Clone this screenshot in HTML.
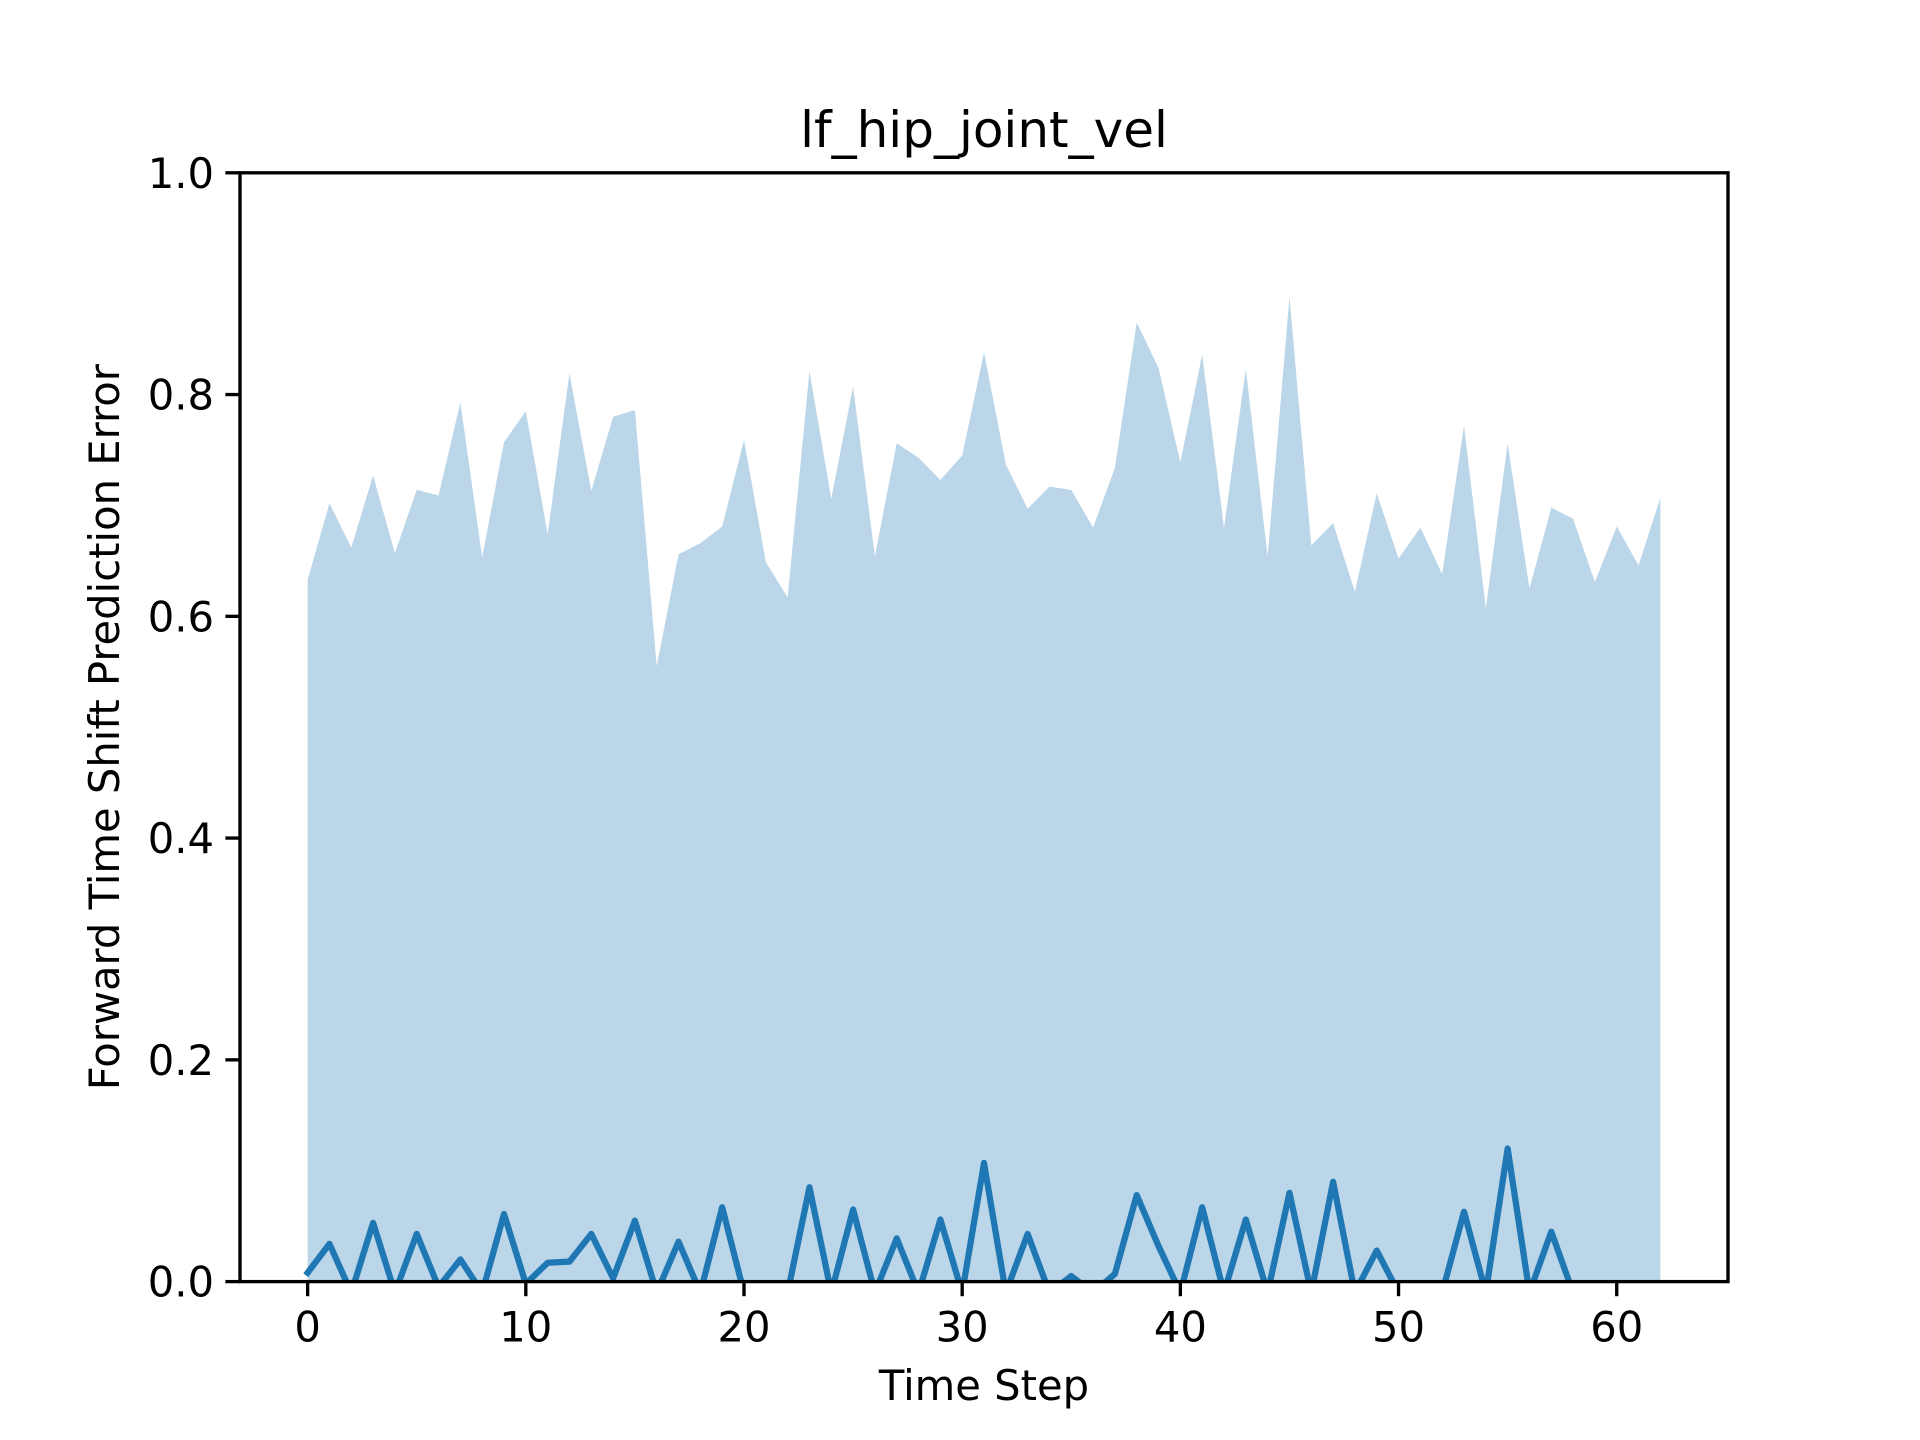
<!DOCTYPE html>
<html><head><meta charset="utf-8"><style>
html,body{margin:0;padding:0;background:#fff;}
svg{display:block;}
text{font-family:"DejaVu Sans","Liberation Sans",sans-serif;fill:#000;}
</style></head><body>
<svg id="chart" width="1920" height="1440" viewBox="0 0 1920 1440">
<rect width="1920" height="1440" fill="#fff"/>
<g id="fillg"></g>
<g id="lineg"></g>
<g id="axes"></g>
</svg>
<script>
const steps = [];
for (let i = 0; i <= 62; i++) steps.push(i);
const upperValues = [0.633,0.702,0.662,0.727,0.657,0.714,0.709,0.793,0.653,0.757,0.785,0.674,0.819,0.713,0.780,0.786,0.555,0.656,0.666,0.681,0.759,0.649,0.617,0.821,0.706,0.807,0.654,0.756,0.743,0.723,0.745,0.838,0.737,0.697,0.717,0.714,0.680,0.734,0.865,0.824,0.739,0.836,0.680,0.823,0.654,0.888,0.664,0.684,0.622,0.711,0.652,0.680,0.638,0.772,0.607,0.756,0.625,0.698,0.688,0.631,0.681,0.646,0.707];
const lowerValues = [0,0,0,0,0,0,0,0,0,0,0,0,0,0,0,0,0,0,0,0,0,0,0,0,0,0,0,0,0,0,0,0,0,0,0,0,0,0,0,0,0,0,0,0,0,0,0,0,0,0,0,0,0,0,0,0,0,0,0,0,0,0,0];
const meanValues = [0.008,0.034,-0.01,0.053,-0.01,0.043,-0.005,0.020,-0.01,0.061,-0.002,0.017,0.018,0.043,0.003,0.055,-0.01,0.036,-0.01,0.067,-0.01,-0.01,-0.01,0.085,-0.01,0.065,-0.01,0.039,-0.01,0.056,-0.01,0.107,-0.01,0.043,-0.01,0.005,-0.01,0.007,0.078,0.032,-0.01,0.067,-0.01,0.056,-0.01,0.080,-0.01,0.090,-0.01,0.028,-0.01,-0.01,-0.01,0.063,-0.01,0.120,-0.01,0.045,-0.01,-0.01,-0.01,-0.01,-0.01];
const xTicks = [0,10,20,30,40,50,60];
const yTicks = [0.0,0.2,0.4,0.6,0.8,1.0];
const yTickLabels = ["0.0","0.2","0.4","0.6","0.8","1.0"];

const L=240,R=1728,T=172.8,B=1281.6;
const xmin=-3.1,xmax=65.1;
const xs=v=>L+(v-xmin)/(xmax-xmin)*(R-L);
const ys=v=>B-(v-0)/(1-0)*(B-T);
const NS="http://www.w3.org/2000/svg";
function mk(tag,attrs,parent){const e=document.createElementNS(NS,tag);for(const k in attrs)e.setAttribute(k,attrs[k]);parent.appendChild(e);return e;}

const defs=mk('defs',{},document.getElementById('chart'));
const cp=mk('clipPath',{id:'clip'},defs);
mk('rect',{x:L,y:T,width:R-L,height:B-T},cp);

const fg=document.getElementById('fillg');
fg.setAttribute('clip-path','url(#clip)');
let d='';
steps.forEach((s,i)=>{d+=(i?'L':'M')+xs(s)+','+ys(upperValues[i]);});
for(let i=steps.length-1;i>=0;i--)d+='L'+xs(steps[i])+','+ys(lowerValues[i]);
d+='Z';
const area=mk('path',{d:d,fill:'#1f77b4','fill-opacity':0.3,stroke:'none'},fg);



const lg=document.getElementById('lineg');
lg.setAttribute('clip-path','url(#clip)');
let ld='';
steps.forEach((s,i)=>{ld+=(i?'L':'M')+xs(s)+','+ys(meanValues[i]);});
const line=mk('path',{d:ld,fill:'none',stroke:'#1f77b4','stroke-width':6.25,'stroke-linejoin':'round','stroke-linecap':'square'},lg);



const ax=document.getElementById('axes');
const frame=mk('rect',{x:L,y:T,width:R-L,height:B-T,fill:'none',stroke:'#000','stroke-width':3.33},ax);


xTicks.forEach(v=>{
  const x=xs(v);
  const t=mk('line',{x1:x,x2:x,y1:B,y2:B+14.6,stroke:'#000','stroke-width':3.33},ax);
  
  
  const tx=mk('text',{x:x,y:B+60,'text-anchor':'middle','font-size':41.7},ax);
  tx.textContent=String(v);
  
  
});
yTicks.forEach((v,i)=>{
  const y=ys(v);
  const t=mk('line',{x1:L-14.6,x2:L,y1:y,y2:y,stroke:'#000','stroke-width':3.33},ax);
  
  
  const tx=mk('text',{x:L-26,y:y+15,'text-anchor':'end','font-size':41.7},ax);
  tx.textContent=yTickLabels[i];
  
  
});
const xl=mk('text',{x:(L+R)/2,y:1400,'text-anchor':'middle','font-size':41.7},ax);
xl.textContent='Time Step';


const yl=mk('text',{x:0,y:0,'text-anchor':'middle','font-size':41.7,transform:'translate(119,'+((T+B)/2)+') rotate(-90)'},ax);
yl.textContent='Forward Time Shift Prediction Error';


const ti=mk('text',{x:(L+R)/2,y:147,'text-anchor':'middle','font-size':50},ax);
ti.textContent='lf_hip_joint_vel';


</script>
</body></html>
